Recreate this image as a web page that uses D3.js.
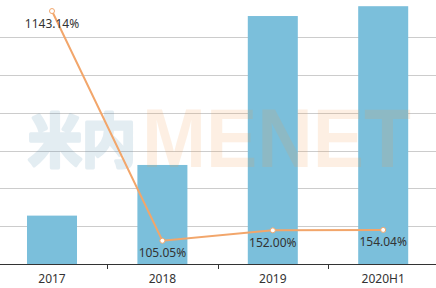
<!DOCTYPE html>
<meta charset="utf-8">
<script src="https://d3js.org/d3.v7.min.js"></script>
<style>
  body { margin: 0; background: #fff; }
  text { font-family: "Noto Sans", sans-serif; }
</style>
<div id="my_dataviz"></div>
<script>

// data
var years = ["2017", "2018", "2019", "2020H1"];
var barValues = [12.8, 26.2, 65.6, 68.2];
var growthRates = [1143.14, 105.05, 152.00, 154.04];
var gridTicks = [0, 10, 20, 30, 40, 50, 60];

var width = 436, height = 288;
var baseY = 264;

var svg = d3.select("#my_dataviz")
  .append("svg")
    .attr("width", width)
    .attr("height", height);

// X scale: bar centered in each band
var p = 0.547;
var x = d3.scaleBand()
  .domain(years)
  .range([-3.2, 438.4])
  .paddingInner(p)
  .paddingOuter(p / 2);

var y = d3.scaleLinear()
  .domain([0, 70])
  .range([baseY, -0.6]);

var y2 = d3.scaleLinear()
  .domain([0, 1193])
  .range([baseY, 0]);

// grid lines
svg.append("g")
  .selectAll("line")
  .data(gridTicks.slice(1))
  .enter()
  .append("line")
    .attr("x1", 0)
    .attr("x2", width)
    .attr("y1", function(d) { return Math.round(y(d)) + 0.5; })
    .attr("y2", function(d) { return Math.round(y(d)) + 0.5; })
    .style("stroke", "#cccccc")
    .style("stroke-width", 1);

// bars
svg.append("g")
  .selectAll("rect")
  .data(years)
  .enter()
  .append("rect")
    .attr("x", function(d) { return x(d); })
    .attr("y", function(d, i) { return y(barValues[i]); })
    .attr("width", x.bandwidth())
    .attr("height", function(d, i) { return baseY - y(barValues[i]); })
    .style("fill", "#7bbfdb");

// watermark
svg.append("g")
  .style("opacity", 0.15)
  .append("text")
    .attr("x", 28)
    .attr("y", 162)
    .attr("textLength", 108)
    .attr("lengthAdjust", "spacingAndGlyphs")
    .style("font-family", "Noto Sans CJK SC")
    .style("font-weight", "bold")
    .style("font-size", "58px")
    .style("fill", "#4a8ab0")
    .style("stroke", "#4a8ab0")
    .style("stroke-width", 3.5)
    .style("stroke-linejoin", "round")
    .text("米内");
svg.append("g")
  .style("opacity", 0.15)
  .append("text")
    .attr("x", 142)
    .attr("y", 167)
    .attr("textLength", 269)
    .attr("lengthAdjust", "spacingAndGlyphs")
    .style("font-family", "Liberation Sans")
    .style("font-weight", "bold")
    .style("font-size", "83px")
    .style("fill", "#f39c4a")
    .text("MENET");

// X axis
var xAxis = svg.append("g")
  .attr("transform", "translate(0," + baseY + ")")
  .call(d3.axisBottom(x).tickSize(0).tickPadding(10));
xAxis.select(".domain").remove();
xAxis.selectAll("text")
  .style("font-family", "Noto Sans")
  .style("font-size", "12px")
  .style("fill", "#333");

svg.append("line")
  .attr("x1", 0).attr("x2", width)
  .attr("y1", baseY + 0.5).attr("y2", baseY + 0.5)
  .style("stroke", "#333").style("stroke-width", 1);

svg.append("g")
  .selectAll("line")
  .data(years.slice(1))
  .enter()
  .append("line")
    .attr("x1", function(d) { return Math.round(x(d) + x.bandwidth() / 2 - x.step() / 2) + 0.5; })
    .attr("x2", function(d) { return Math.round(x(d) + x.bandwidth() / 2 - x.step() / 2) + 0.5; })
    .attr("y1", baseY)
    .attr("y2", baseY + 5)
    .style("stroke", "#333");

// growth line
var cx = function(d, i) { return x(years[i]) + x.bandwidth() / 2; };
var line = d3.line()
  .x(cx)
  .y(function(d) { return y2(d); });

svg.append("path")
  .datum(growthRates)
  .attr("d", line)
  .style("fill", "none")
  .style("stroke", "#f2a66b")
  .style("stroke-width", 2);

svg.append("g")
  .selectAll("circle")
  .data(growthRates)
  .enter()
  .append("circle")
    .attr("cx", cx)
    .attr("cy", function(d) { return y2(d); })
    .attr("r", 2.5)
    .style("fill", "#fff")
    .style("stroke", "#f2a66b")
    .style("stroke-width", 1);

svg.append("g")
  .selectAll("text")
  .data(growthRates)
  .enter()
  .append("text")
    .attr("x", cx)
    .attr("y", function(d) { return y2(d) + 16.5; })
    .attr("text-anchor", "middle")
    .style("font-size", "12px")
    .style("fill", "#333")
    .text(function(d) { return d.toFixed(2) + "%"; });

</script>
